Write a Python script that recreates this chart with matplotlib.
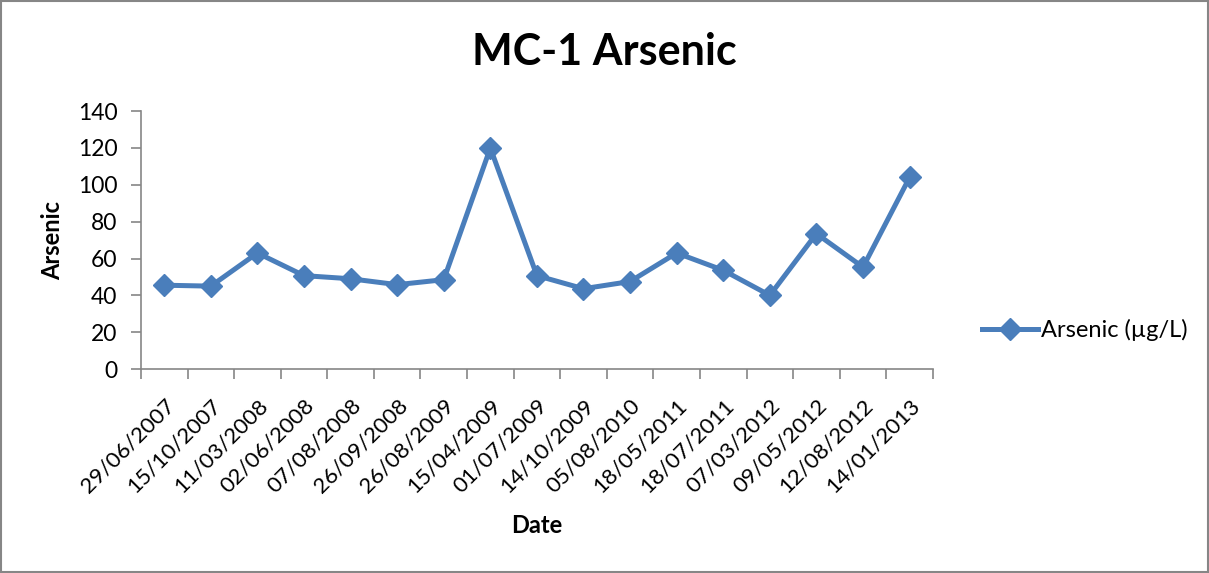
import numpy as np
import matplotlib
matplotlib.use("Agg")
from matplotlib import pyplot as plt
from matplotlib.patches import Rectangle

plt.rcParams['font.family'] = ['Lato', 'DejaVu Sans']

dates = ["29/06/2007", "15/10/2007", "11/03/2008", "02/06/2008", "07/08/2008",
         "26/09/2008", "26/08/2009", "15/04/2009", "01/07/2009", "14/10/2009",
         "05/08/2010", "18/05/2011", "18/07/2011", "07/03/2012", "09/05/2012",
         "12/08/2012", "14/01/2013"]
arsenic = [45.5, 45, 63, 50.7, 49, 45.8, 48.5, 120, 50.7, 43.6,
           47.5, 63, 53.6, 40, 73.5, 55.3, 104]

blue = "#4a7ebb"
grey = "#868686"

fig = plt.figure(figsize=(12.09, 5.73), dpi=100)
ax = fig.add_axes([0.1166, 0.356, 0.655, 0.45])

x = np.arange(len(dates))
ax.plot(x, arsenic, color=blue, lw=3.6, marker="D", markersize=11,
        markeredgecolor=blue, markerfacecolor=blue, label="Arsenic (µg/L)")

ax.set_xlim(-0.5, len(dates) - 0.5)
ax.set_ylim(0, 140)
ax.set_yticks(range(0, 141, 20))
ax.set_xticks(x)
ax.set_xticklabels(dates, rotation=45, ha="right", rotation_mode="anchor", fontsize=16)
ax.set_xticks(np.arange(-0.5, len(dates)), minor=True)
ax.tick_params(axis="x", which="major", length=0, pad=19)
ax.tick_params(axis="x", which="minor", length=7, width=1.2, color=grey, direction="out")
ax.tick_params(axis="y", length=7, width=1.2, color=grey, labelsize=16.5, pad=10)

for side in ["top", "right"]:
    ax.spines[side].set_visible(False)
for side in ["left", "bottom"]:
    ax.spines[side].set_color(grey)
    ax.spines[side].set_linewidth(1.2)

ax.set_ylabel("Arsenic", fontsize=17, fontweight="bold")
ax.yaxis.set_label_coords(-0.111, 0.5)
ax.yaxis.label.set_va("center")
ax.set_xlabel("Date", fontsize=17, fontweight="bold")
ax.xaxis.set_label_coords(0.5, -0.605)
ax.xaxis.label.set_va("center")
fig.text(0.5, 0.909, "MC-1 Arsenic", fontsize=31, fontweight="bold", ha="center", va="center")

ax.legend(loc="center left", bbox_to_anchor=(1.035, 0.15), frameon=False,
          fontsize=17, handlelength=2.4, handletextpad=0.1, markerscale=1.0)

fig.patches.append(Rectangle((0.001, 0.001), 0.998, 0.998, transform=fig.transFigure,
                             fill=False, edgecolor=grey, lw=1.5))

fig.savefig("out.png", dpi=100)
